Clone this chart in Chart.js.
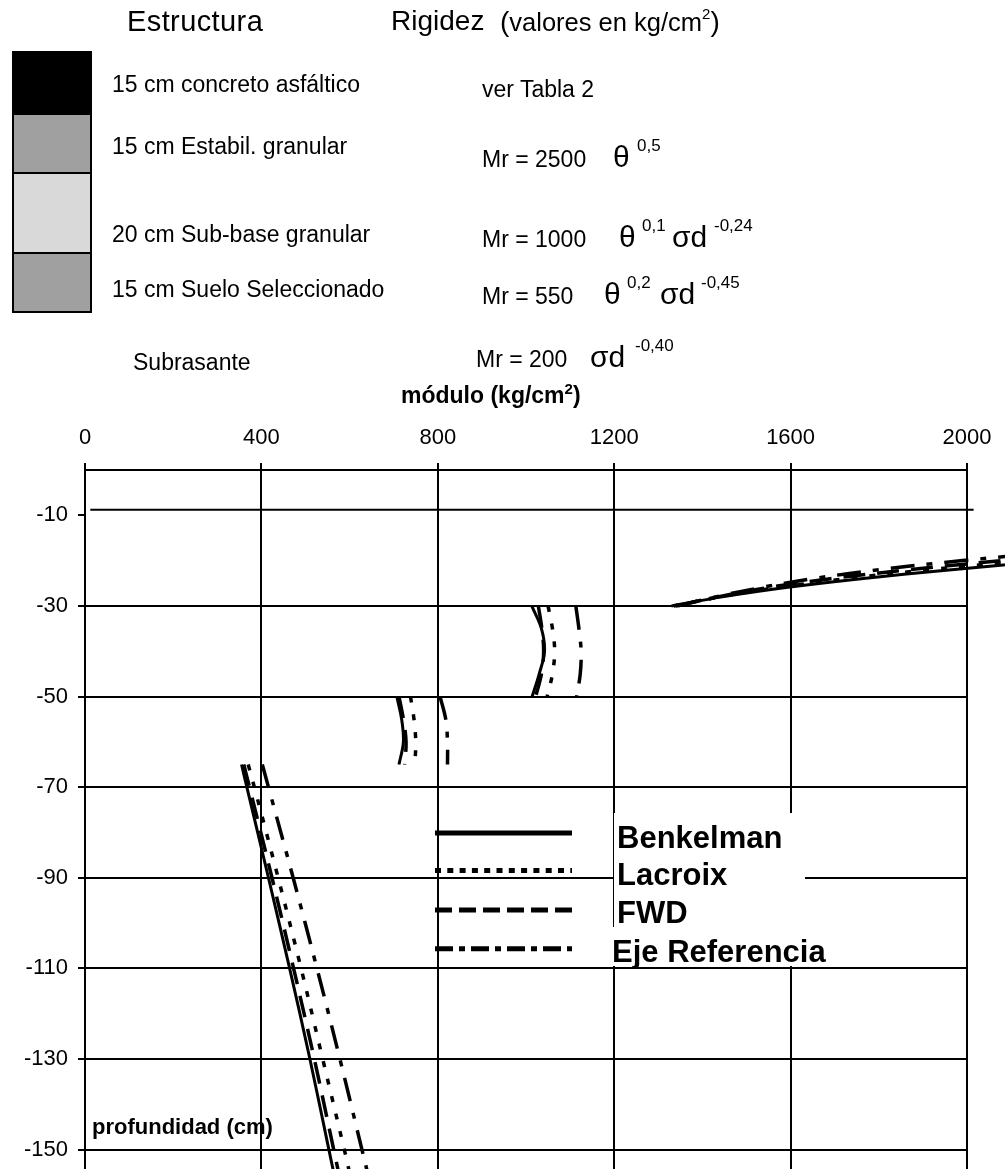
<!DOCTYPE html>
<html>
<head>
<meta charset="utf-8">
<script src="https://cdn.jsdelivr.net/npm/chart.js@4.4.1/dist/chart.umd.min.js"></script>
<style>
  html, body { margin: 0; padding: 0; background: #fff; overflow: hidden; }
  #wrap { position: relative; width: 1005px; height: 1169px; overflow: hidden; background: #fff; }
  #chart { position: absolute; left: 0; top: 0; }
  .t { position: absolute; line-height: 1; white-space: nowrap; color: #000;
       font-family: "Liberation Sans", Arial, Helvetica, sans-serif; }
  .b { font-weight: bold; }
  .layer { position: absolute; left: 12px; width: 80px; box-sizing: border-box; border: 2px solid #000; }
</style>
</head>
<body>
<div id="wrap">
  <canvas id="chart" width="1005" height="1200"></canvas>

  <!-- pavement structure -->
  <div class="t" style="left:127px; top:7px; font-size:29px; letter-spacing:0.4px">Estructura</div>
  <div class="t" style="left:391px; top:7px; font-size:28px">Rigidez</div>
  <div class="t" style="left:500px; top:7.8px; font-size:28px">(<span style="font-size:25.5px">valores en kg/cm</span><span style="font-size:15px; position:relative; top:-12px">2</span>)</div>

  <div class="layer" style="top:51px; height:64px; background:#000"></div>
  <div class="layer" style="top:113px; height:61px; background:#a0a0a0"></div>
  <div class="layer" style="top:172px; height:82px; background:#d9d9d9"></div>
  <div class="layer" style="top:252px; height:61px; background:#a0a0a0"></div>

  <div class="t" style="left:112px; top:72.5px; font-size:23px">15 cm concreto asfáltico</div>
  <div class="t" style="left:112px; top:134.5px; font-size:23px">15 cm Estabil. granular</div>
  <div class="t" style="left:112px; top:222.5px; font-size:23px">20 cm Sub-base granular</div>
  <div class="t" style="left:112px; top:277.5px; font-size:23px">15 cm Suelo Seleccionado</div>
  <div class="t" style="left:133px; top:350.5px; font-size:23px">Subrasante</div>

  <!-- stiffness models -->
  <div class="t" style="left:482px; top:77.5px; font-size:23px">ver Tabla 2</div>

  <div class="t" style="left:482px; top:147.5px; font-size:23px">Mr = 2500</div>
  <div class="t" style="left:613px; top:141.6px; font-size:30px">θ</div>
  <div class="t" style="left:637px; top:136.6px; font-size:17px">0,5</div>

  <div class="t" style="left:482px; top:227.5px; font-size:23px">Mr = 1000</div>
  <div class="t" style="left:619px; top:221.6px; font-size:30px">θ</div>
  <div class="t" style="left:642px; top:216.6px; font-size:17px">0,1</div>
  <div class="t" style="left:672px; top:221.6px; font-size:30px">σd</div>
  <div class="t" style="left:714px; top:216.6px; font-size:17px">-0,24</div>

  <div class="t" style="left:482px; top:284.5px; font-size:23px">Mr = 550</div>
  <div class="t" style="left:604px; top:278.6px; font-size:30px">θ</div>
  <div class="t" style="left:627px; top:273.6px; font-size:17px">0,2</div>
  <div class="t" style="left:660px; top:278.6px; font-size:30px">σd</div>
  <div class="t" style="left:701px; top:273.6px; font-size:17px">-0,45</div>

  <div class="t" style="left:476px; top:347.5px; font-size:23px">Mr = 200</div>
  <div class="t" style="left:590px; top:341.6px; font-size:30px">σd</div>
  <div class="t" style="left:635px; top:336.6px; font-size:17px">-0,40</div>

  <!-- axis titles -->
  <div class="t b" style="left:401px; top:383.5px; font-size:23px">módulo (kg/cm<span style="font-size:15px; position:relative; top:-9px">2</span>)</div>
  <div class="t b" style="left:92px; top:1116.4px; font-size:22px">profundidad (cm)</div>
</div>

<script>
// Methods compared
const methods = ['Benkelman', 'Lacroix', 'FWD', 'Eje Referencia'];

// Axis ticks
const xTicks = [0, 400, 800, 1200, 1600, 2000];
const yTicks = [-10, -30, -50, -70, -90, -110, -130, -150];

// Depths (cm) where the modulus was evaluated, per layer
const depthBase     = [-30, -28, -26, -24, -22, -20, -18];
const depthSubbase  = [-30, -35, -40, -45, -50];
const depthSelected = [-50, -55, -60, -65];
const depthSubgrade = [-65, -70, -90, -110, -130, -150, -156];

// Modulus (kg/cm2) — granular stabilised base
const benkelmanBase = [1330, 1445, 1585, 1760, 1965, 2200, 2460];
const lacroixBase   = [1335, 1440, 1565, 1725, 1915, 2140, 2390];
const fwdBase       = [1340, 1435, 1545, 1690, 1870, 2080, 2320];
const ejeBase       = [1345, 1430, 1530, 1650, 1800, 1990, 2210];

// Modulus (kg/cm2) — granular sub-base
const benkelmanSubbase = [1013, 1035, 1042, 1030, 1014];
const lacroixSubbase   = [1050, 1060, 1065, 1060, 1048];
const fwdSubbase       = [1028, 1036, 1040, 1035, 1022];
const ejeSubbase       = [1113, 1120, 1125, 1123, 1115];

// Modulus (kg/cm2) — selected soil
const benkelmanSelected = [707, 718, 722, 712];
const lacroixSelected   = [738, 746, 750, 748];
const fwdSelected       = [712, 722, 728, 725];
const ejeSelected       = [805, 818, 822, 822];

// Modulus (kg/cm2) — subgrade
const benkelmanSubgrade = [355, 367, 416, 464, 510, 553, 566];
const lacroixSubgrade   = [370, 384, 438, 490, 539, 588, 602];
const fwdSubgrade       = [360, 373, 424, 473, 520, 564, 577];
const ejeSubgrade       = [402, 416, 472, 526, 578, 628, 643];

// Upper horizontal line
const upperLineModulus = [12, 2015];
const upperLineDepth   = [-8.8, -8.8];

const FONT = '"Liberation Sans", Arial, Helvetica, sans-serif';

function profile(layers) {
  const pts = [];
  layers.forEach(([depths, moduli], k) => {
    if (k > 0) pts.push({ x: null, y: null });
    depths.forEach((d, i) => pts.push({ x: moduli[i], y: d }));
  });
  return pts;
}

const styles = {
  'Benkelman':      { dash: [],               legendDash: [],            width: 3 },
  'Lacroix':        { dash: [6, 12],          legendDash: [6, 6.3],      width: 3.5 },
  'FWD':            { dash: [22, 12],         legendDash: [17, 7],       width: 3.5 },
  'Eje Referencia': { dash: [24, 12, 6, 12],  legendDash: [18, 6, 6, 6], width: 3.5 }
};

const layersByMethod = {
  'Benkelman': [[depthBase, benkelmanBase], [depthSubbase, benkelmanSubbase], [depthSelected, benkelmanSelected], [depthSubgrade, benkelmanSubgrade]],
  'Lacroix': [[depthBase, lacroixBase], [depthSubbase, lacroixSubbase], [depthSelected, lacroixSelected], [depthSubgrade, lacroixSubgrade]],
  'FWD': [[depthBase, fwdBase], [depthSubbase, fwdSubbase], [depthSelected, fwdSelected], [depthSubgrade, fwdSubgrade]],
  'Eje Referencia': [[depthBase, ejeBase], [depthSubbase, ejeSubbase], [depthSelected, ejeSelected], [depthSubgrade, ejeSubgrade]]
};

const datasets = methods.map(m => ({
  label: m,
  data: profile(layersByMethod[m]),
  showLine: true,
  spanGaps: false,
  borderColor: '#000',
  borderWidth: styles[m].width,
  borderDash: styles[m].dash,
  legendDash: styles[m].legendDash,
  borderCapStyle: 'butt',
  tension: 0.35,
  pointRadius: 0,
  clip: false
}));

datasets.push({
  label: '',
  inLegend: false,
  data: upperLineModulus.map((m, i) => ({ x: m, y: upperLineDepth[i] })),
  showLine: true,
  borderColor: '#000',
  borderWidth: 2,
  pointRadius: 0,
  tension: 0,
  clip: false
});

// In-plot legend with white label panels
const legendPanel = {
  id: 'legendPanel',
  afterDraw(chart) {
    const ctx = chart.ctx;
    ctx.save();
    ctx.fillStyle = '#fff';
    ctx.fillRect(614, 813, 191, 114);
    ctx.fillRect(609, 927, 248, 39);

    const rows = [833, 870.5, 910, 948.7];
    const textBase = [848, 885, 923, 962];
    const textX = [617, 617, 617, 612];
    chart.data.datasets.filter(d => d.inLegend !== false).forEach((ds, i) => {
      ctx.beginPath();
      ctx.strokeStyle = '#000';
      ctx.lineWidth = 5;
      ctx.lineCap = 'butt';
      ctx.setLineDash(ds.legendDash);
      ctx.moveTo(435, rows[i]);
      ctx.lineTo(572, rows[i]);
      ctx.stroke();
      ctx.setLineDash([]);
      ctx.fillStyle = '#000';
      ctx.font = 'bold 31px ' + FONT;
      ctx.textBaseline = 'alphabetic';
      ctx.textAlign = 'left';
      ctx.fillText(ds.label, textX[i], textBase[i]);
    });
    ctx.restore();
  }
};

new Chart(document.getElementById('chart'), {
  type: 'scatter',
  data: { datasets },
  options: {
    responsive: false,
    animation: false,
    devicePixelRatio: 1,
    layout: { padding: { top: 380, right: 38, left: 0, bottom: 0 } },
    plugins: { legend: { display: false }, tooltip: { enabled: false } },
    scales: {
      x: {
        type: 'linear',
        position: 'top',
        min: 0,
        max: 2000,
        afterBuildTicks: s => { s.ticks = xTicks.map(v => ({ value: v })); },
        afterFit: s => { s.height = 90; },
        grid: { color: '#000', lineWidth: 2, tickLength: 7, tickColor: '#000' },
        border: { display: true, color: '#000', width: 2 },
        ticks: { color: '#000', font: { family: FONT, size: 22 }, padding: 12, maxRotation: 0, autoSkip: false,
                 callback: v => String(v) }
      },
      y: {
        type: 'linear',
        min: -156,
        max: 0,
        afterBuildTicks: s => { s.ticks = yTicks.map(v => ({ value: v })); },
        afterFit: s => { s.width = 85; },
        grid: {
          color: c => (c.tick && c.tick.value === -10) ? 'rgba(0,0,0,0)' : '#000',
          lineWidth: 2, tickLength: 7, tickColor: '#000'
        },
        border: { display: true, color: '#000', width: 2 },
        ticks: { color: '#000', font: { family: FONT, size: 22 }, padding: 10, autoSkip: false,
                 callback: v => String(v) }
      }
    }
  },
  plugins: [legendPanel]
});
</script>
</body>
</html>
